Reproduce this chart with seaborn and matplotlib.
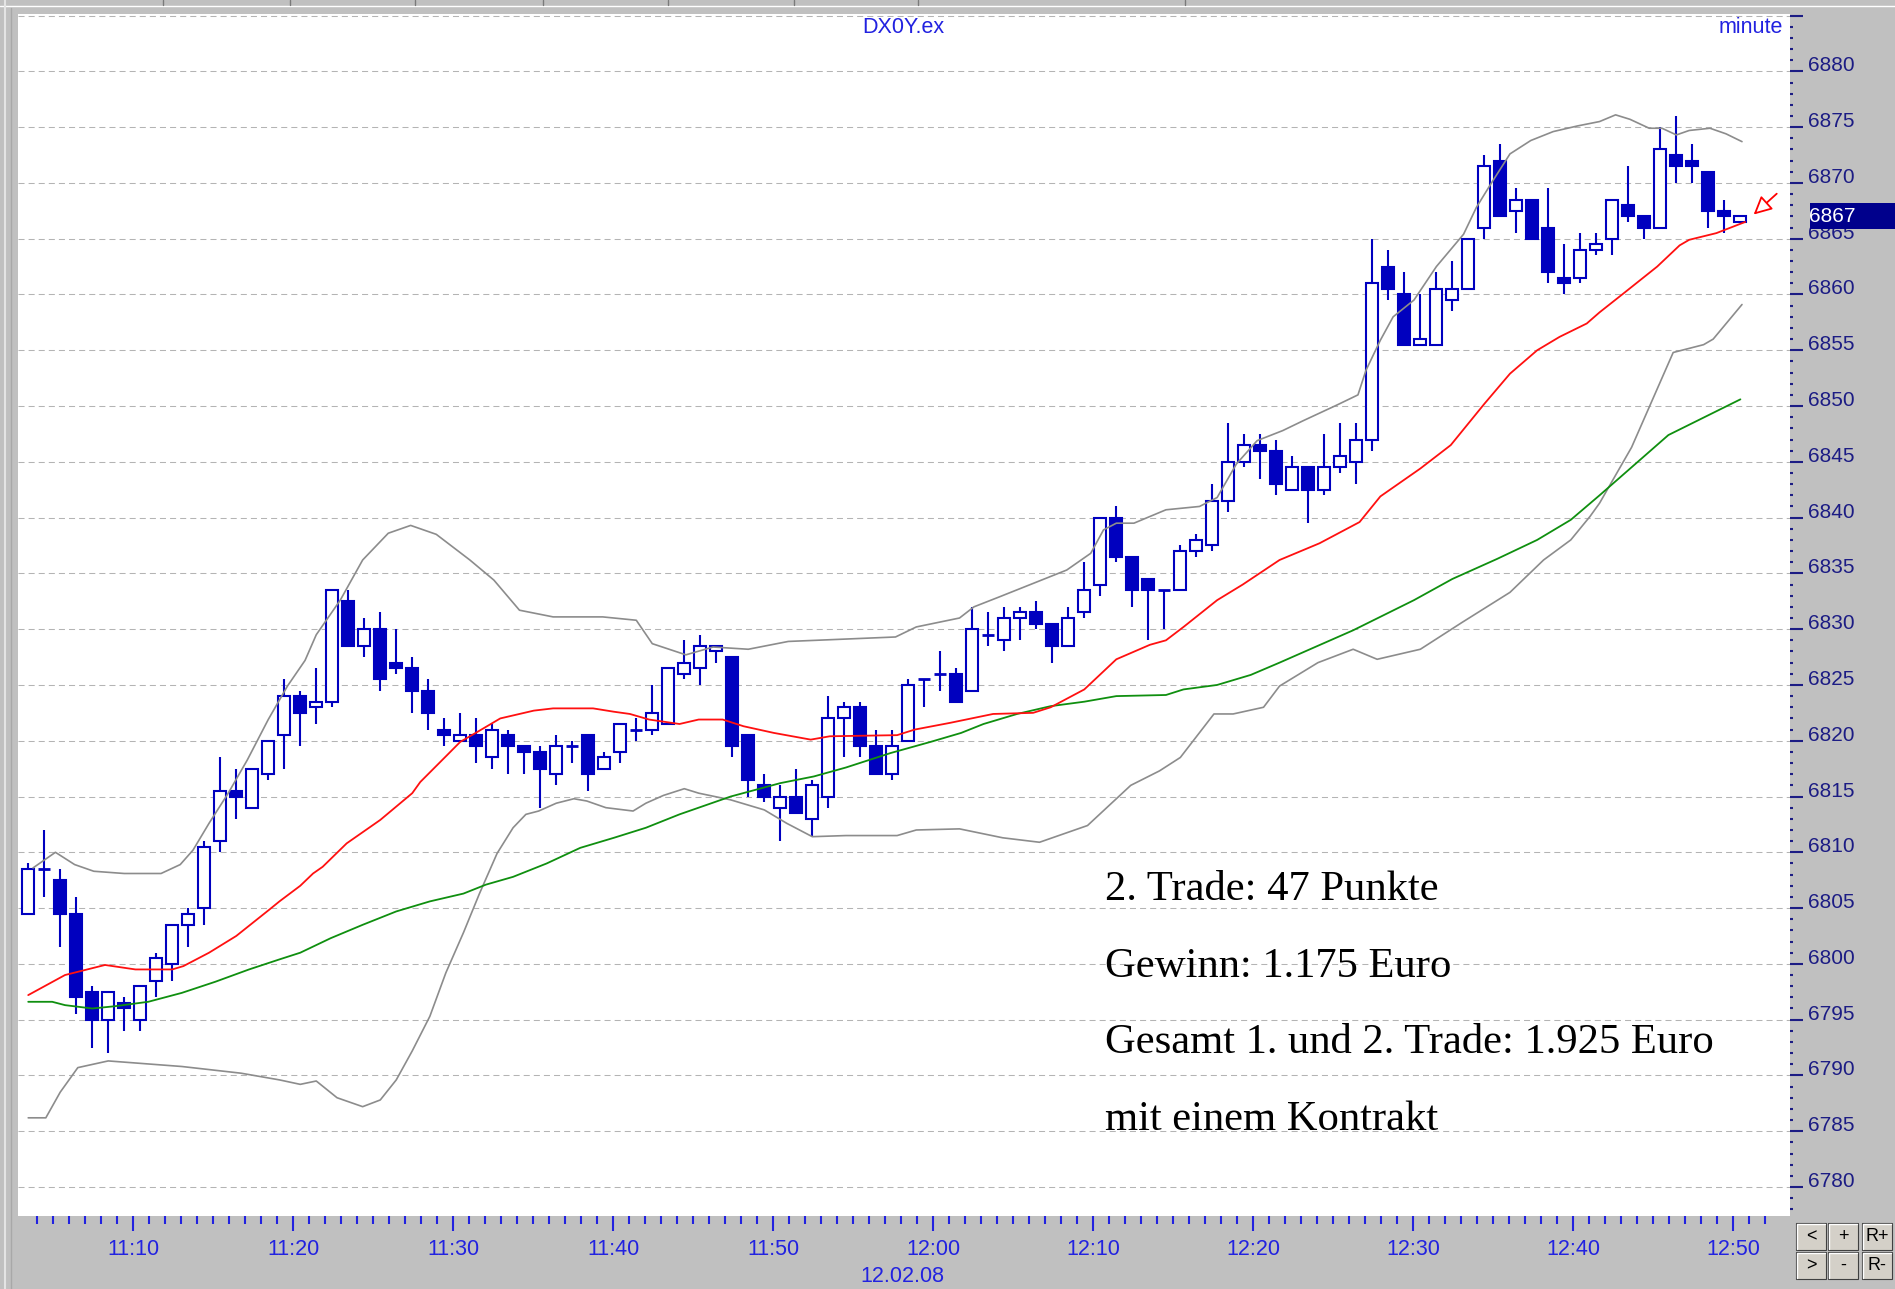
import matplotlib
matplotlib.use("Agg")
import matplotlib.pyplot as plt
from matplotlib.lines import Line2D
from matplotlib.patches import Rectangle
import numpy as np
import pandas as pd
import seaborn as sns

# ---------------------------------------------------------------------------
# Data: one-minute candles of DX0Y.ex, 11:04 .. 12:51 on 12.02.08
# ---------------------------------------------------------------------------
opens = [
    6804.5, 6808.5, 6807.5, 6804.5, 6797.5, 6795.0, 6796.5, 6795.0, 6798.5, 6800.0,
    6803.5, 6805.0, 6811.0, 6815.5, 6814.0, 6817.0, 6820.5, 6824.0, 6823.0, 6823.5,
    6832.5, 6828.5, 6830.0, 6827.0, 6826.5, 6824.5, 6821.0, 6820.0, 6820.5, 6818.5,
    6820.5, 6819.5, 6819.0, 6817.0, 6819.5, 6820.5, 6817.5, 6819.0, 6821.0, 6821.0,
    6821.5, 6826.0, 6826.5, 6828.0, 6827.5, 6820.5, 6816.0, 6814.0, 6815.0, 6813.0,
    6815.0, 6822.0, 6823.0, 6819.5, 6817.0, 6820.0, 6825.5, 6826.0, 6826.0, 6824.5,
    6829.5, 6829.0, 6831.0, 6831.5, 6830.5, 6828.5, 6831.5, 6834.0, 6840.0, 6836.5,
    6834.5, 6833.5, 6833.5, 6837.0, 6837.5, 6841.5, 6845.0, 6846.5, 6846.0, 6842.5,
    6844.5, 6842.5, 6844.5, 6845.0, 6847.0, 6862.5, 6860.0, 6855.5, 6855.5, 6859.5,
    6860.5, 6866.0, 6872.0, 6867.5, 6868.5, 6866.0, 6861.5, 6861.5, 6864.0, 6865.0,
    6868.0, 6867.0, 6866.0, 6872.5, 6872.0, 6871.0, 6867.5, 6866.5,
]
highs = [
    6809.0, 6812.0, 6808.5, 6806.0, 6798.0, 6797.5, 6797.0, 6798.0, 6801.0, 6803.5,
    6805.0, 6811.0, 6818.5, 6817.5, 6817.5, 6820.0, 6825.5, 6824.5, 6826.5, 6833.5,
    6833.5, 6831.0, 6831.5, 6830.0, 6827.5, 6825.5, 6822.0, 6822.5, 6822.0, 6821.5,
    6821.0, 6819.5, 6819.5, 6820.5, 6820.0, 6820.5, 6819.0, 6821.5, 6822.0, 6825.0,
    6826.5, 6829.0, 6829.5, 6828.5, 6827.5, 6820.5, 6817.0, 6816.0, 6817.5, 6816.5,
    6824.0, 6823.5, 6823.5, 6821.0, 6821.0, 6825.5, 6825.5, 6828.0, 6826.5, 6832.0,
    6831.5, 6832.0, 6832.0, 6832.5, 6830.5, 6832.0, 6836.0, 6840.0, 6841.0, 6836.5,
    6834.5, 6833.5, 6837.5, 6838.5, 6843.0, 6848.5, 6847.5, 6847.5, 6847.0, 6845.5,
    6844.5, 6847.5, 6848.5, 6848.5, 6865.0, 6864.0, 6862.0, 6860.0, 6862.0, 6863.0,
    6865.0, 6872.5, 6873.5, 6869.5, 6868.5, 6869.5, 6864.5, 6865.5, 6865.5, 6868.5,
    6871.5, 6867.0, 6875.0, 6876.0, 6873.5, 6871.0, 6868.5, 6867.0,
]
lows = [
    6804.5, 6806.0, 6801.5, 6795.5, 6792.5, 6792.0, 6794.0, 6794.0, 6797.0, 6798.5,
    6801.5, 6803.5, 6810.0, 6813.0, 6814.0, 6816.5, 6817.5, 6819.5, 6821.5, 6823.0,
    6828.5, 6827.5, 6824.5, 6826.0, 6822.5, 6821.0, 6819.5, 6820.0, 6818.0, 6817.5,
    6817.0, 6817.0, 6814.0, 6816.0, 6818.0, 6815.5, 6817.5, 6818.0, 6820.0, 6820.5,
    6821.5, 6825.5, 6825.0, 6827.0, 6818.5, 6815.0, 6814.5, 6811.0, 6813.5, 6811.5,
    6814.0, 6818.5, 6818.5, 6817.0, 6816.5, 6820.0, 6823.0, 6824.5, 6823.5, 6824.5,
    6828.5, 6828.0, 6829.0, 6830.0, 6827.0, 6828.5, 6831.0, 6833.0, 6836.0, 6832.0,
    6829.0, 6830.0, 6833.5, 6836.5, 6837.0, 6840.5, 6844.5, 6843.5, 6842.0, 6842.5,
    6839.5, 6842.0, 6844.0, 6843.0, 6846.0, 6859.5, 6855.5, 6855.5, 6855.5, 6858.5,
    6860.5, 6865.0, 6867.0, 6865.5, 6865.0, 6861.0, 6860.0, 6861.0, 6863.5, 6863.5,
    6866.5, 6865.0, 6866.0, 6870.0, 6870.0, 6866.0, 6865.5, 6866.5,
]
closes = [
    6808.5, 6808.5, 6804.5, 6797.0, 6795.0, 6797.5, 6796.0, 6798.0, 6800.5, 6803.5,
    6804.5, 6810.5, 6815.5, 6815.0, 6817.5, 6820.0, 6824.0, 6822.5, 6823.5, 6833.5,
    6828.5, 6830.0, 6825.5, 6826.5, 6824.5, 6822.5, 6820.5, 6820.5, 6819.5, 6821.0,
    6819.5, 6819.0, 6817.5, 6819.5, 6819.5, 6817.0, 6818.5, 6821.5, 6821.0, 6822.5,
    6826.5, 6827.0, 6828.5, 6828.5, 6819.5, 6816.5, 6815.0, 6815.0, 6813.5, 6816.0,
    6822.0, 6823.0, 6819.5, 6817.0, 6819.5, 6825.0, 6825.5, 6826.0, 6823.5, 6830.0,
    6829.5, 6831.0, 6831.5, 6830.5, 6828.5, 6831.0, 6833.5, 6840.0, 6836.5, 6833.5,
    6833.5, 6833.5, 6837.0, 6838.0, 6841.5, 6845.0, 6846.5, 6846.0, 6843.0, 6844.5,
    6842.5, 6844.5, 6845.5, 6847.0, 6861.0, 6860.5, 6855.5, 6856.0, 6860.5, 6860.5,
    6865.0, 6871.5, 6867.0, 6868.5, 6865.0, 6862.0, 6861.0, 6864.0, 6864.5, 6868.5,
    6867.0, 6866.0, 6873.0, 6871.5, 6871.5, 6867.5, 6867.0, 6867.0,
]

# indicator lines (x = candle number)
upper_x = [0.3, 1.7, 2.9, 4.1, 6.0, 8.3, 9.5, 10.3, 11.3, 12.5, 13.7, 15.0, 16.2, 17.3,
           18.0, 19.5, 20.9, 22.5, 23.9, 25.5, 27.6, 29.1, 30.7, 32.8, 35.9, 38.0, 39.0,
           41.1, 42.8, 45.0, 47.5, 49.2, 54.2, 55.5, 58.2, 59.1, 60.7, 62.8, 64.9, 66.4,
           67.2, 68.0, 69.1, 71.1, 73.2, 74.3, 75.5, 76.8, 78.4, 79.7, 81.8, 83.1, 83.6,
           84.5, 85.3, 86.6, 88.0, 89.7, 90.5, 91.4, 92.6, 93.9, 95.3, 96.8, 98.2, 99.2,
           100.1, 101.3, 102.1, 103.0, 103.8, 105.1, 106.1, 107.1]
upper_y = [6808.6, 6810.0, 6808.9, 6808.3, 6808.1, 6808.1, 6808.9, 6810.2, 6812.6, 6815.3,
           6818.3, 6821.9, 6824.9, 6827.2, 6829.5, 6832.6, 6836.2, 6838.6, 6839.3, 6838.5,
           6836.2, 6834.4, 6831.7, 6831.1, 6831.1, 6830.8, 6828.7, 6827.7, 6828.4, 6828.2,
           6828.9, 6829.0, 6829.3, 6830.2, 6831.0, 6832.0, 6832.9, 6834.1, 6835.3, 6836.8,
           6838.9, 6839.5, 6839.5, 6840.7, 6841.0, 6841.8, 6844.8, 6846.9, 6847.8, 6848.7,
           6850.1, 6851.0, 6853.2, 6855.9, 6858.0, 6859.5, 6862.5, 6865.4, 6867.8, 6869.9,
           6872.6, 6873.8, 6874.6, 6875.1, 6875.5, 6876.1, 6875.7, 6874.9, 6874.9, 6874.3,
           6874.7, 6874.9, 6874.4, 6873.7]

lower_x = [0.0, 1.1, 2.0, 3.1, 5.0, 9.6, 13.3, 15.7, 17.0, 18.0, 19.3, 20.9, 22.0, 23.0,
           24.0, 25.1, 26.1, 27.2, 28.2, 29.3, 30.3, 31.1, 31.9, 33.0, 34.1, 34.9, 36.1,
           37.8, 38.6, 39.7, 41.0, 41.9, 43.9, 46.0, 47.4, 49.0, 51.1, 54.3, 55.5, 58.2,
           60.9, 63.2, 66.2, 68.9, 70.7, 72.0, 74.1, 75.3, 77.2, 78.2, 80.6, 82.8, 84.3,
           87.0, 89.6, 92.6, 94.7, 96.4, 97.6, 98.2, 100.2, 102.8, 104.7, 105.3, 107.1]
lower_y = [6786.2, 6786.2, 6788.5, 6790.7, 6791.3, 6790.8, 6790.2, 6789.6, 6789.2, 6789.5,
           6788.0, 6787.2, 6787.8, 6789.6, 6792.2, 6795.3, 6799.2, 6802.8, 6806.3, 6809.9,
           6812.2, 6813.4, 6813.7, 6814.4, 6814.8, 6814.6, 6814.0, 6813.7, 6814.4, 6815.1,
           6815.7, 6815.3, 6814.7, 6813.8, 6812.6, 6811.4, 6811.5, 6811.5, 6812.0, 6812.1,
           6811.3, 6810.9, 6812.4, 6816.0, 6817.3, 6818.5, 6822.4, 6822.4, 6823.0, 6824.9,
           6827.0, 6828.2, 6827.3, 6828.2, 6830.6, 6833.3, 6836.2, 6838.0, 6840.1, 6841.3,
           6846.3, 6854.8, 6855.5, 6856.0, 6859.1]

red_x = [0.0, 2.3, 4.8, 6.7, 9.0, 9.7, 11.3, 13.0, 15.1, 15.7, 17.0, 17.8, 18.4, 19.9,
         22.0, 24.0, 24.5, 26.1, 27.0, 28.2, 29.5, 31.6, 32.8, 35.3, 36.6, 37.6, 38.8,
         40.7, 41.9, 43.4, 44.7, 46.6, 48.9, 50.1, 54.3, 55.4, 57.6, 60.3, 62.8, 63.9,
         66.0, 68.0, 70.1, 71.1, 72.2, 74.3, 75.9, 78.2, 80.7, 83.2, 84.5, 87.0, 88.9,
         91.0, 92.6, 94.3, 95.7, 97.4, 98.2, 99.7, 101.8, 103.2, 103.8, 105.5, 107.3]
red_y = [6797.2, 6799.0, 6799.9, 6799.5, 6799.5, 6799.8, 6801.0, 6802.5, 6804.9, 6805.6,
         6807.0, 6808.1, 6808.7, 6810.8, 6812.9, 6815.3, 6816.3, 6818.6, 6819.9, 6820.9,
         6822.0, 6822.7, 6822.9, 6822.9, 6822.6, 6822.4, 6821.9, 6821.5, 6821.9, 6821.9,
         6821.3, 6820.7, 6820.1, 6820.4, 6820.5, 6821.0, 6821.6, 6822.4, 6822.5, 6823.0,
         6824.6, 6827.3, 6828.6, 6829.0, 6830.2, 6832.6, 6834.0, 6836.2, 6837.7, 6839.6,
         6841.9, 6844.4, 6846.5, 6850.2, 6852.9, 6855.0, 6856.2, 6857.4, 6858.4, 6860.1,
         6862.5, 6864.4, 6864.9, 6865.5, 6866.5]

green_x = [0.0, 1.5, 2.3, 4.0, 5.4, 7.5, 9.6, 11.7, 13.8, 15.7, 17.0, 18.9, 20.9, 23.0,
           25.1, 27.2, 28.6, 30.3, 32.4, 34.5, 36.6, 38.6, 40.7, 43.9, 47.0, 49.1, 51.1,
           53.9, 56.4, 58.3, 59.7, 61.8, 63.9, 66.0, 68.0, 71.1, 72.2, 74.3, 76.4, 78.2,
           82.8, 86.6, 89.0, 91.8, 94.3, 96.4, 98.2, 102.5, 107.0]
green_y = [6796.6, 6796.6, 6796.3, 6796.0, 6796.2, 6796.6, 6797.4, 6798.4, 6799.5, 6800.4,
           6801.0, 6802.3, 6803.5, 6804.7, 6805.6, 6806.3, 6807.1, 6807.8, 6809.0, 6810.4,
           6811.3, 6812.2, 6813.4, 6815.0, 6816.2, 6816.8, 6817.6, 6818.9, 6819.9, 6820.7,
           6821.5, 6822.4, 6823.1, 6823.5, 6824.0, 6824.1, 6824.6, 6825.0, 6825.9, 6827.0,
           6829.9, 6832.6, 6834.5, 6836.3, 6838.0, 6839.8, 6842.0, 6847.4, 6850.6]

time_labels = ["11:10", "11:20", "11:30", "11:40", "11:50", "12:00",
               "12:10", "12:20", "12:30", "12:40", "12:50"]
price_levels = list(range(6780, 6886, 5))
last_price = 6867

notes = ["2. Trade: 47 Punkte",
         "Gewinn: 1.175 Euro",
         "Gesamt 1. und 2. Trade: 1.925 Euro",
         "mit einem Kontrakt"]

# ---------------------------------------------------------------------------
# Figure / axes (pixel layout of the original screenshot)
# ---------------------------------------------------------------------------
W, H = 1895, 1289
sns.set_style("white")
plt.rcParams["font.family"] = ["Liberation Sans", "DejaVu Sans"]

BLUE = "#0000bf"
NAVY = "#1c1c84"
AXBLUE = "#2222e0"
GRAY = "#c0c0c0"


def fx(px):
    return px / W


def fy(py):
    return 1 - py / H


fig = plt.figure(figsize=(W / 100, H / 100), dpi=100, facecolor=GRAY)
ax = fig.add_axes([fx(18.3), fy(1216), (1790 - 18.3) / W, (1216 - 14) / H])
ax.set_facecolor("white")
for s in ax.spines.values():
    s.set_visible(False)

# ---------------------------------------------------------------------------
# Candles
# ---------------------------------------------------------------------------
df = pd.DataFrame({"open": opens, "high": highs, "low": lows, "close": closes})
df["x"] = np.arange(len(df))
df["body"] = (df["close"] - df["open"]).abs()
df["bottom"] = df[["open", "close"]].min(axis=1)
rising = df[(df["close"] > df["open"])]
falling = df[(df["close"] < df["open"])]
flat = df[df["body"] == 0]
bw = 0.74

ax.vlines(df["x"], df["low"], df["high"], color=BLUE, lw=1.5, zorder=2)
ax.bar(rising["x"], rising["body"], bottom=rising["bottom"], width=bw,
       facecolor="white", edgecolor=BLUE, linewidth=1.5, zorder=3)
ax.bar(falling["x"], falling["body"], bottom=falling["bottom"], width=bw,
       facecolor=BLUE, edgecolor=BLUE, linewidth=1.5, zorder=3)
ax.hlines(flat["open"], flat["x"] - bw / 2, flat["x"] + bw / 2, color=BLUE, lw=2, zorder=3)

# bands and moving averages
for xs, ys, col, lw in [(upper_x, upper_y, "#8c8c8c", 1.2),
                        (lower_x, lower_y, "#8c8c8c", 1.2),
                        (green_x, green_y, "#0f8f0f", 1.3),
                        (red_x, red_y, "#ff1010", 1.3)]:
    sns.lineplot(x=xs, y=ys, ax=ax, color=col, linewidth=lw,
                 estimator=None, sort=False, zorder=4)

# ---------------------------------------------------------------------------
# Axes, ticks, grid
# ---------------------------------------------------------------------------
ax.set_xlim(-0.62, 110.1)
ax.set_ylim(6777.4, 6885.14)

ax.set_yticks(price_levels)
ax.set_yticklabels([str(v) if v <= 6880 else "" for v in price_levels])
ax.set_yticks(np.arange(6778, 6886, 1), minor=True)
ax.tick_params(axis="y", which="major", left=False, right=True, labelleft=False,
               labelright=True, direction="out", length=9.4, width=1.5, color=NAVY,
               pad=3.6, labelsize=15, labelcolor=NAVY)
ax.tick_params(axis="y", which="minor", left=False, right=True, direction="out",
               length=2.2, width=1.5, color=NAVY)
for lab in ax.get_yticklabels():
    lab.set_va("baseline")

# minute ticks sit slightly right of the candle centres
ax.set_xticks([6.56 + 10 * k for k in range(len(time_labels))], labels=time_labels)
ax.set_xticks([0.56 + k for k in range(109)], minor=True)
ax.tick_params(axis="x", which="major", bottom=True, direction="out", length=10.5,
               width=1.5, color=AXBLUE, pad=6, labelsize=15.5, labelcolor=AXBLUE)
ax.tick_params(axis="x", which="minor", bottom=True, direction="out", length=6,
               width=1.5, color=AXBLUE)

ax.grid(axis="y", which="major", color="#b4b4b4", linestyle=(0, (5.8, 3.9)), linewidth=0.75)
ax.grid(axis="x", visible=False)
ax.set_axisbelow(True)
ax.set_xlabel("")
ax.set_ylabel("")

# header texts inside the chart
ax.text(0.4994, 0.9884, "DX0Y.ex", transform=ax.transAxes, ha="center", va="center",
        fontsize=15.5, color=AXBLUE)
ax.text(0.996, 0.9884, "minute", transform=ax.transAxes, ha="right", va="center",
        fontsize=15.5, color=AXBLUE)

# trade notes
for note, yb in zip(notes, [0.2629, 0.1988, 0.1356, 0.0716]):
    ax.text(0.6134, yb, note, transform=ax.transAxes, ha="left", va="baseline",
            fontsize=30.7, color="black", family=["Liberation Serif", "DejaVu Serif"])

# last price marker arrow (hollow red head)
ax.annotate("", xy=(107.7, last_price), xytext=(109.4, last_price + 2.2),
            arrowprops=dict(arrowstyle="-|>,head_length=1.1,head_width=0.55",
                            fc="white", ec="red", lw=1.3),
            annotation_clip=False, zorder=5)

# current price box on the price scale
fig.add_artist(Rectangle((fx(1810), fy(229.3)), fx(1895) - fx(1810), (229.3 - 202.7) / H,
                         transform=fig.transFigure, facecolor="#00008c",
                         edgecolor="none", zorder=5))
fig.text(fx(1809), fy(216.3), str(last_price), ha="left", va="center",
         fontsize=15, color="white", zorder=6)

# date under the time axis
fig.text(fx(902), fy(1277), "12.02.08", ha="center", va="center",
         fontsize=15.5, color=AXBLUE)

# ---------------------------------------------------------------------------
# Window chrome: tab strip on top, left border, zoom buttons
# ---------------------------------------------------------------------------
fig.add_artist(Line2D([0, 1], [fy(6), fy(6)], transform=fig.transFigure,
                      color="white", lw=1.0))
for sx in [163, 290, 415, 543, 668, 794, 918, 1185]:
    fig.add_artist(Line2D([fx(sx), fx(sx)], [fy(0), fy(5)], transform=fig.transFigure,
                          color="#7a7a7a", lw=1.0))
fig.add_artist(Line2D([fx(5), fx(5)], [0, 1], transform=fig.transFigure,
                      color="#e4e4e4", lw=1.5))
fig.add_artist(Line2D([fx(11), fx(11)], [fy(1289), fy(8)], transform=fig.transFigure,
                      color="#a8a8a8", lw=1.0))

buttons = [("<", 1796, 1223), ("+", 1828, 1223), ("R+", 1862, 1223),
           (">", 1796, 1252), ("-", 1828, 1252), ("R-", 1862, 1252)]
for lab, bx, by in buttons:
    bwid, bhei = 30, 27
    fig.add_artist(Rectangle((fx(bx), fy(by + bhei)), bwid / W, bhei / H,
                             transform=fig.transFigure, facecolor="#d4d0c8",
                             edgecolor="#404040", lw=0.8, zorder=3))
    fig.add_artist(Line2D([fx(bx + 1), fx(bx + 1), fx(bx + bwid - 1)],
                          [fy(by + bhei - 1), fy(by + 1), fy(by + 1)],
                          transform=fig.transFigure, color="white", lw=1.0, zorder=4))
    fig.text(fx(bx + bwid / 2), fy(by + bhei / 2), lab, ha="center", va="center",
             fontsize=13, color="black", zorder=5)

fig.savefig("out.png", dpi=100, facecolor=fig.get_facecolor())
